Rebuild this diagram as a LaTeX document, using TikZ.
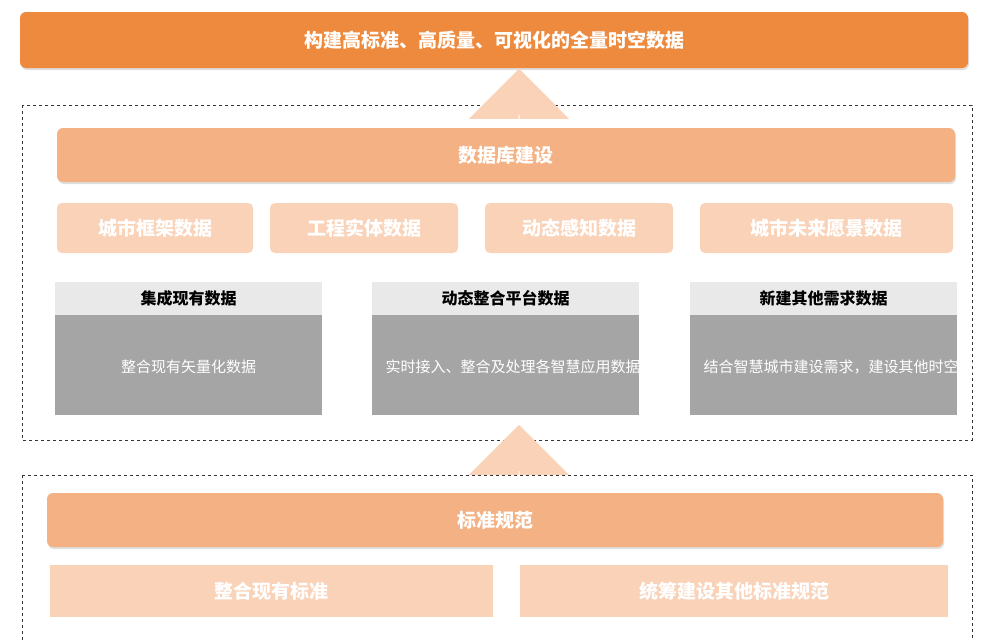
\documentclass[tikz,border=0pt]{standalone}
\usepackage{fontspec}
\setmainfont{Noto Sans CJK SC}
\usetikzlibrary{shapes.arrows,shadows}
\definecolor{dkor}{HTML}{EE8A3E}
\definecolor{midor}{HTML}{F4B183}
\definecolor{ltor}{HTML}{F9D2B8}
\definecolor{hdr}{HTML}{E9E9E9}
\definecolor{bdy}{HTML}{A5A5A5}
\begin{document}
\begin{tikzpicture}[x=1pt,y=-1pt,
  bar/.style={rounded corners=6pt,fill=#1,draw=none,drop shadow={opacity=0.25,shadow xshift=1pt,shadow yshift=-2pt}},
  sbox/.style={rounded corners=5pt,fill=ltor,draw=none},
  btxt/.style={text=white,font=\bfseries\fontsize{19}{22}\selectfont},
  htxt/.style={text=black,font=\bfseries\fontsize{16}{19}\selectfont},
  wtxt/.style={text=white,font=\fontsize{15}{22}\selectfont,align=center,text width=240pt},
  dbox/.style={draw=black!80,dashed,line width=1pt},
  uparr/.style={single arrow,shape border rotate=90,fill=ltor,draw=none,minimum height=46pt,minimum width=50pt,single arrow head extend=20pt,inner sep=0pt}]
\useasboundingbox (0,0) rectangle (988,640);
\fill[white] (0,0) rectangle (988,640);
% dashed boxes
\draw[dbox] (22,105) rectangle (972,440);
\draw[dbox] (22,475) -- (22,640) (22,475) -- (972,475) -- (972,640);
% top
\draw[bar=dkor] (20,12) rectangle (968,68);
\node[btxt] (top) at (494,40) {构建高标准、高质量、可视化的全量时空数据};
\node[uparr,minimum width=100pt] (a1) at (519,92) {};
\node[uparr,minimum width=100pt] (a2) at (519,448) {};
% db
\draw[bar=midor] (57,128) rectangle (955,182);
\node[btxt] (db) at (506,155) {数据库建设};
\foreach \a/\b/\t/\n in {57/253/城市框架数据/c1,270/458/工程实体数据/c2,485/673/动态感知数据/c3,700/953/城市未来愿景数据/c4}{
  \fill[sbox] (\a,203) rectangle (\b,253);
  \node[btxt] (\n) at ({(\a+\b)/2},228) {\t};
}
\foreach \a/\h/\t/\n in {55/集成现有数据/整合现有矢量化数据/p1,372/动态整合平台数据/实时接入、整合及处理各智慧应用数据/p2,690/新建其他需求数据/结合智慧城市建设需求，建设其他时空数据/p3}{
  \fill[hdr] (\a,282) rectangle ({\a+267},315);
  \fill[bdy] (\a,315) rectangle ({\a+267},415);
  \node[htxt] (\n h) at ({\a+133.5},298) {\h};
  \node[wtxt] (\n b) at ({\a+133.5},367) {\t};
}
% standards
\draw[bar=midor] (47,493) rectangle (943,547);
\node[btxt] (std) at (495,520) {标准规范};
\fill[ltor] (50,565) rectangle (493,617);
\node[btxt] (s1) at (271,591) {整合现有标准};
\fill[ltor] (520,565) rectangle (948,617);
\node[btxt] (s2) at (734,591) {统筹建设其他标准规范};
\end{tikzpicture}
\end{document}
